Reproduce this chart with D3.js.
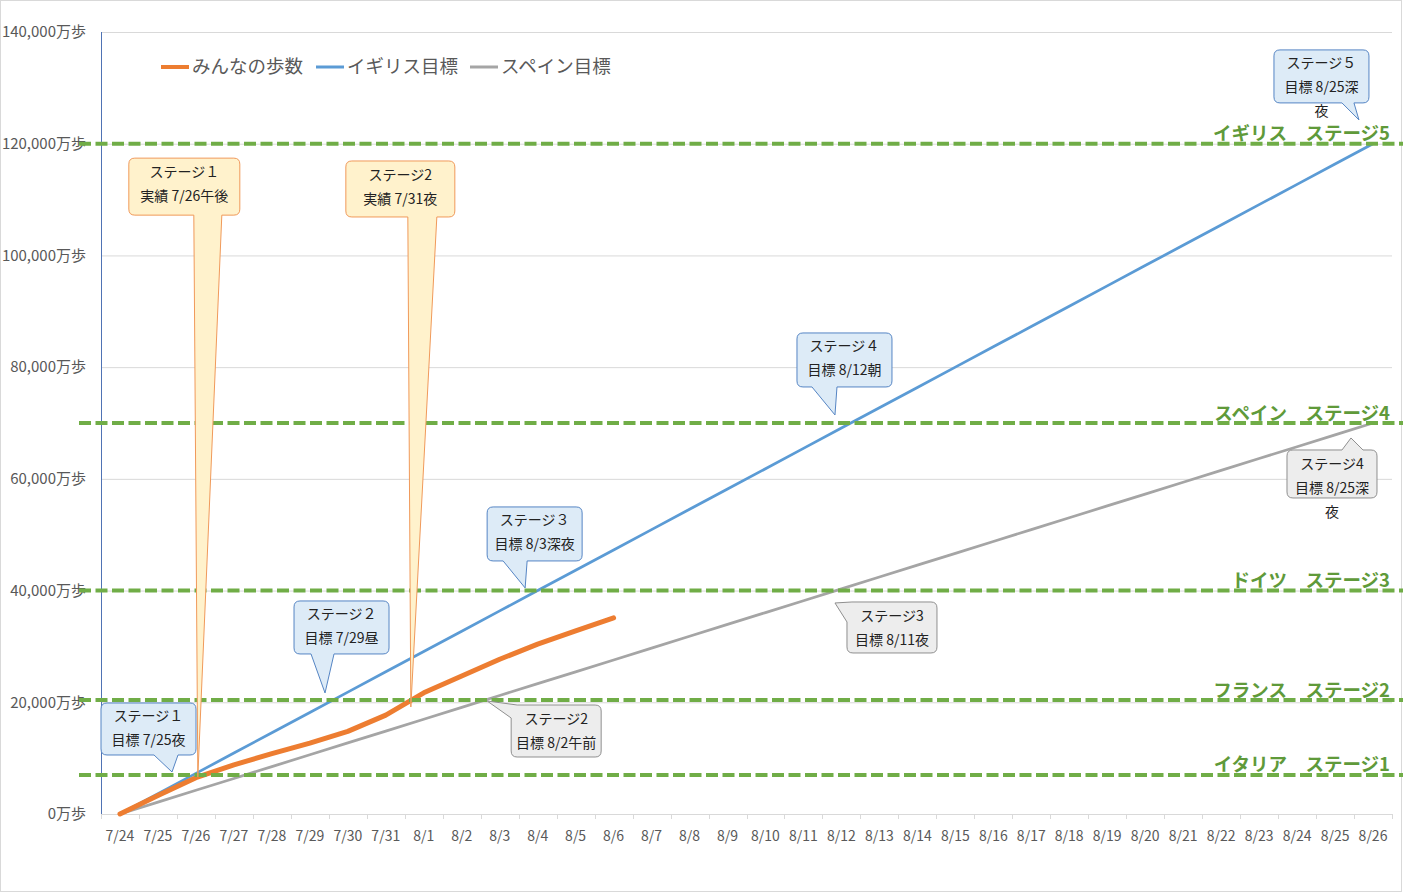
<!DOCTYPE html>
<html lang="ja">
<head>
<meta charset="utf-8">
<script src="https://cdn.jsdelivr.net/npm/d3@7"></script>
<style>
  html, body { margin: 0; padding: 0; background: #fff; }
  svg { display: block; }
</style>
</head>
<body>
<svg id="chart" width="1403" height="893"></svg>
<script>
// ---- data ----
const dates = ['7/24','7/25','7/26','7/27','7/28','7/29','7/30','7/31',
  '8/1','8/2','8/3','8/4','8/5','8/6','8/7','8/8','8/9','8/10','8/11','8/12',
  '8/13','8/14','8/15','8/16','8/17','8/18','8/19','8/20','8/21','8/22','8/23',
  '8/24','8/25','8/26'];

// みんなの歩数 (万歩), recorded through 8/6
const actualSteps = [0, 3300, 6500, 8800, 10800, 12700, 14800, 17700, 21700,
  24700, 27700, 30400, 32800, 35100];

// イギリス目標 (万歩)
const ukTarget = [0, 3636, 7273, 10909, 14545, 18182, 21818, 25455, 29091,
  32727, 36364, 40000, 43636, 47273, 50909, 54545, 58182, 61818, 65455, 69091,
  72727, 76364, 80000, 83636, 87273, 90909, 94545, 98182, 101818, 105455,
  109091, 112727, 116364, 120000];

// スペイン目標 (万歩)
const spainTarget = [0, 2121, 4242, 6364, 8485, 10606, 12727, 14848, 16970,
  19091, 21212, 23333, 25455, 27576, 29697, 31818, 33939, 36061, 38182, 40303,
  42424, 44545, 46667, 48788, 50909, 53030, 55152, 57273, 59394, 61515, 63636,
  65758, 67879, 70000];

const yTicks = [0, 20000, 40000, 60000, 80000, 100000, 120000, 140000];

const legendNames = ['みんなの歩数', 'イギリス目標', 'スペイン目標'];

// stage goals (万歩)
const stageNames = ['イタリア　ステージ1', 'フランス　ステージ2', 'ドイツ　ステージ3',
  'スペイン　ステージ4', 'イギリス　ステージ5'];
const stageValues = [7000, 20400, 40000, 70000, 120000];

// call-out notes: text lines and the point they refer to [date index, 万歩]
const ukNotes = [
  { lines: ['ステージ１', '目標 7/25夜'], at: [1.37, 7520] },
  { lines: ['ステージ２', '目標 7/29昼'], at: [5.40, 21670] },
  { lines: ['ステージ３', '目標 8/3深夜'], at: [10.67, 40470] },
  { lines: ['ステージ４', '目標 8/12朝'], at: [18.83, 71440] },
  { lines: ['ステージ５', '目標 8/25深', '夜'], at: [32.63, 124260] }
];
const spainNotes = [
  { lines: ['ステージ2', '目標 8/2午前'], at: [9.67, 20230] },
  { lines: ['ステージ3', '目標 8/11夜'], at: [18.83, 37780] },
  { lines: ['ステージ4', '目標 8/25深', '夜'], at: [32.42, 67320] }
];
const actualNotes = [
  { lines: ['ステージ１', '実績 7/26午後'], at: [2.05, 6600] },
  { lines: ['ステージ2', '実績 7/31夜'], at: [7.66, 19160] }
];

// ---- layout ----
const FONT = '"Noto Sans CJK JP", "Noto Sans", sans-serif';
const W = 1403, H = 893;
const plot = { left: 101, right: 1392, top: 32, bottom: 814 };

// bubble placement relative to the pointed-at spot (pixels)
const ukBoxes = [
  { dx: -71, dy: -69, w: 95, h: 52, ptr: { side: 'bottom', a: -18, b: 6 } },
  { dx: -31, dy: -92, w: 95, h: 53, ptr: { side: 'bottom', a: -14, b: 9 } },
  { dx: -38, dy: -81, w: 95, h: 54, ptr: { side: 'bottom', a: -22, b: 2 } },
  { dx: -38, dy: -82, w: 95, h: 54, ptr: { side: 'bottom', a: -23, b: 2 } },
  { dx: -85, dy: -70, w: 95, h: 53, ptr: { side: 'bottom', a: -17, b: -5 } }
];
const spainBoxes = [
  { dx: 24, dy: 4, w: 90, h: 52, ptr: { side: 'corner', a: 30, b: 17 } },
  { dx: 12, dy: -1, w: 90, h: 51, ptr: { side: 'corner', a: 17, b: 19 } },
  { dx: -64, dy: 12, w: 90, h: 48, ptr: { side: 'top', a: -9, b: 12 } }
];
const actualBoxes = [
  { dx: -69, dy: -619, w: 111, h: 57, ptr: { side: 'bottom', a: -4, b: 24 } },
  { dx: -65, dy: -546, w: 109, h: 56, ptr: { side: 'bottom', a: -3, b: 26 } }
];

const colors = {
  actual: '#ED7D31', uk: '#5B9BD5', spain: '#A5A5A5', stage: '#70AD47',
  stageText: '#5F9A3A', axisText: '#595959', grid: '#D9D9D9'
};

const svg = d3.select('#chart');

// outer frame
svg.append('rect')
  .attr('x', 0.5).attr('y', 0.5).attr('width', W - 2).attr('height', H - 2)
  .attr('fill', '#fff').attr('stroke', '#D9D9D9');

const x = d3.scaleBand().domain(dates).range([plot.left, plot.right]).padding(0);
const bw = x.bandwidth();
const xAt = i => plot.left + bw * (i + 0.5);
const y = d3.scaleLinear().domain([0, 140000]).range([plot.bottom, plot.top]);

// horizontal gridlines
svg.append('g')
  .attr('transform', `translate(${plot.left},0)`)
  .call(d3.axisLeft(y).tickValues(yTicks).tickSize(-(plot.right - plot.left)).tickFormat(''))
  .call(g => g.select('.domain').remove())
  .call(g => g.selectAll('line').attr('stroke', colors.grid).attr('stroke-width', 1));

// y axis labels
svg.append('g')
  .attr('transform', `translate(${plot.left},0)`)
  .call(d3.axisLeft(y).tickValues(yTicks).tickSize(0).tickPadding(15)
    .tickFormat(d => d3.format(',')(d) + '万歩'))
  .call(g => g.select('.domain').remove())
  .call(g => g.selectAll('text')
    .attr('font-family', FONT).attr('font-size', 15).attr('fill', colors.axisText));

// y axis line
svg.append('line')
  .attr('x1', plot.left + 0.5).attr('x2', plot.left + 0.5)
  .attr('y1', plot.top).attr('y2', plot.bottom)
  .attr('stroke', '#4F73B4').attr('stroke-width', 1);

// x axis
const xAxis = svg.append('g')
  .attr('transform', `translate(0,${plot.bottom})`)
  .call(d3.axisBottom(x).tickSize(0).tickPadding(17))
  .call(g => g.select('.domain').attr('stroke', colors.grid))
  .call(g => g.selectAll('text')
    .attr('font-family', FONT).attr('font-size', 14).attr('fill', colors.axisText));
// tick marks on category boundaries
xAxis.selectAll('line.boundary')
  .data(dates.concat([null]))
  .join('line')
  .attr('class', 'boundary')
  .attr('x1', (d, i) => Math.round(plot.left + bw * i) + 0.5)
  .attr('x2', (d, i) => Math.round(plot.left + bw * i) + 0.5)
  .attr('y1', 0).attr('y2', 5)
  .attr('stroke', colors.grid);

// series lines
const lineGen = d3.line().x((d, i) => xAt(i)).y(d => y(d));
svg.append('path').datum(spainTarget)
  .attr('d', lineGen).attr('fill', 'none')
  .attr('stroke', colors.spain).attr('stroke-width', 2.75).attr('stroke-linejoin', 'round');
svg.append('path').datum(ukTarget)
  .attr('d', lineGen).attr('fill', 'none')
  .attr('stroke', colors.uk).attr('stroke-width', 2.75).attr('stroke-linejoin', 'round');
svg.append('path').datum(actualSteps)
  .attr('d', lineGen).attr('fill', 'none')
  .attr('stroke', colors.actual).attr('stroke-width', 5)
  .attr('stroke-linejoin', 'round').attr('stroke-linecap', 'round');

// stage goal lines with labels
const stages = svg.append('g');
stages.selectAll('line')
  .data(stageValues)
  .join('line')
  .attr('x1', 79).attr('x2', W)
  .attr('y1', d => y(d)).attr('y2', d => y(d))
  .attr('stroke', colors.stage).attr('stroke-width', 4)
  .attr('stroke-dasharray', '12,4.5');
stages.selectAll('text')
  .data(stageValues)
  .join('text')
  .attr('x', 1390)
  .attr('y', d => y(d) - 3.5)
  .attr('text-anchor', 'end')
  .attr('font-family', FONT).attr('font-size', 18.5).attr('font-weight', 'bold')
  .attr('fill', colors.stageText)
  .text((d, i) => stageNames[i]);

// speech bubble outline
function bubblePath(x0, y0, w, h, tip, ptr) {
  const x1 = x0 + w, y1 = y0 + h, r = 6;
  const p = d3.path();
  if (ptr.side === 'corner') p.moveTo(ptr.a, y0); else p.moveTo(x0 + r, y0);
  if (ptr.side === 'top') { p.lineTo(ptr.a, y0); p.lineTo(tip[0], tip[1]); p.lineTo(ptr.b, y0); }
  p.lineTo(x1 - r, y0); p.quadraticCurveTo(x1, y0, x1, y0 + r);
  p.lineTo(x1, y1 - r); p.quadraticCurveTo(x1, y1, x1 - r, y1);
  if (ptr.side === 'bottom') { p.lineTo(ptr.b, y1); p.lineTo(tip[0], tip[1]); p.lineTo(ptr.a, y1); }
  p.lineTo(x0 + r, y1); p.quadraticCurveTo(x0, y1, x0, y1 - r);
  if (ptr.side === 'corner') {
    p.lineTo(x0, ptr.b); p.lineTo(tip[0], tip[1]); p.closePath();
  } else {
    p.lineTo(x0, y0 + r); p.quadraticCurveTo(x0, y0, x0 + r, y0); p.closePath();
  }
  return p.toString();
}

function drawNotes(notes, boxes, fill, stroke, firstLine) {
  const g = svg.append('g');
  notes.forEach((n, i) => {
    const b = boxes[i];
    const tx = xAt(n.at[0]), ty = y(n.at[1]);
    const x0 = tx + b.dx, y0 = ty + b.dy;
    const ptr = { side: b.ptr.side };
    if (b.ptr.side === 'corner') { ptr.a = tx + b.ptr.a; ptr.b = ty + b.ptr.b; }
    else { ptr.a = tx + b.ptr.a; ptr.b = tx + b.ptr.b; }
    g.append('path')
      .attr('d', bubblePath(x0, y0, b.w, b.h, [tx, ty], ptr))
      .attr('fill', fill).attr('stroke', stroke).attr('stroke-width', 1)
      .attr('stroke-linejoin', 'round');
    g.selectAll(null)
      .data(n.lines)
      .enter().append('text')
      .attr('x', x0 + b.w / 2)
      .attr('y', (d, k) => y0 + firstLine + k * 24)
      .attr('dy', '0.35em')
      .attr('text-anchor', 'middle')
      .attr('font-family', FONT).attr('font-size', 14).attr('fill', '#222')
      .text(d => d);
  });
}

drawNotes(ukNotes, ukBoxes, '#DDEBF7', '#5585C4', 13);
drawNotes(spainNotes, spainBoxes, '#EDEDED', '#8F8F8F', 14);
drawNotes(actualNotes, actualBoxes, '#FFF2CC', '#F0995A', 14);

// legend
const legendColors = [colors.actual, colors.uk, colors.spain];
const legendWidths = [4, 3, 3];
const legendX = [161, 316, 470];
const legend = svg.append('g');
legendNames.forEach((name, i) => {
  legend.append('line')
    .attr('x1', legendX[i]).attr('x2', legendX[i] + 28)
    .attr('y1', 67).attr('y2', 67)
    .attr('stroke', legendColors[i]).attr('stroke-width', legendWidths[i]);
  legend.append('text')
    .attr('x', legendX[i] + 31).attr('y', 67).attr('dy', '0.35em')
    .attr('font-family', FONT).attr('font-size', 18.5).attr('fill', colors.axisText)
    .text(name);
});
</script>
</body>
</html>
